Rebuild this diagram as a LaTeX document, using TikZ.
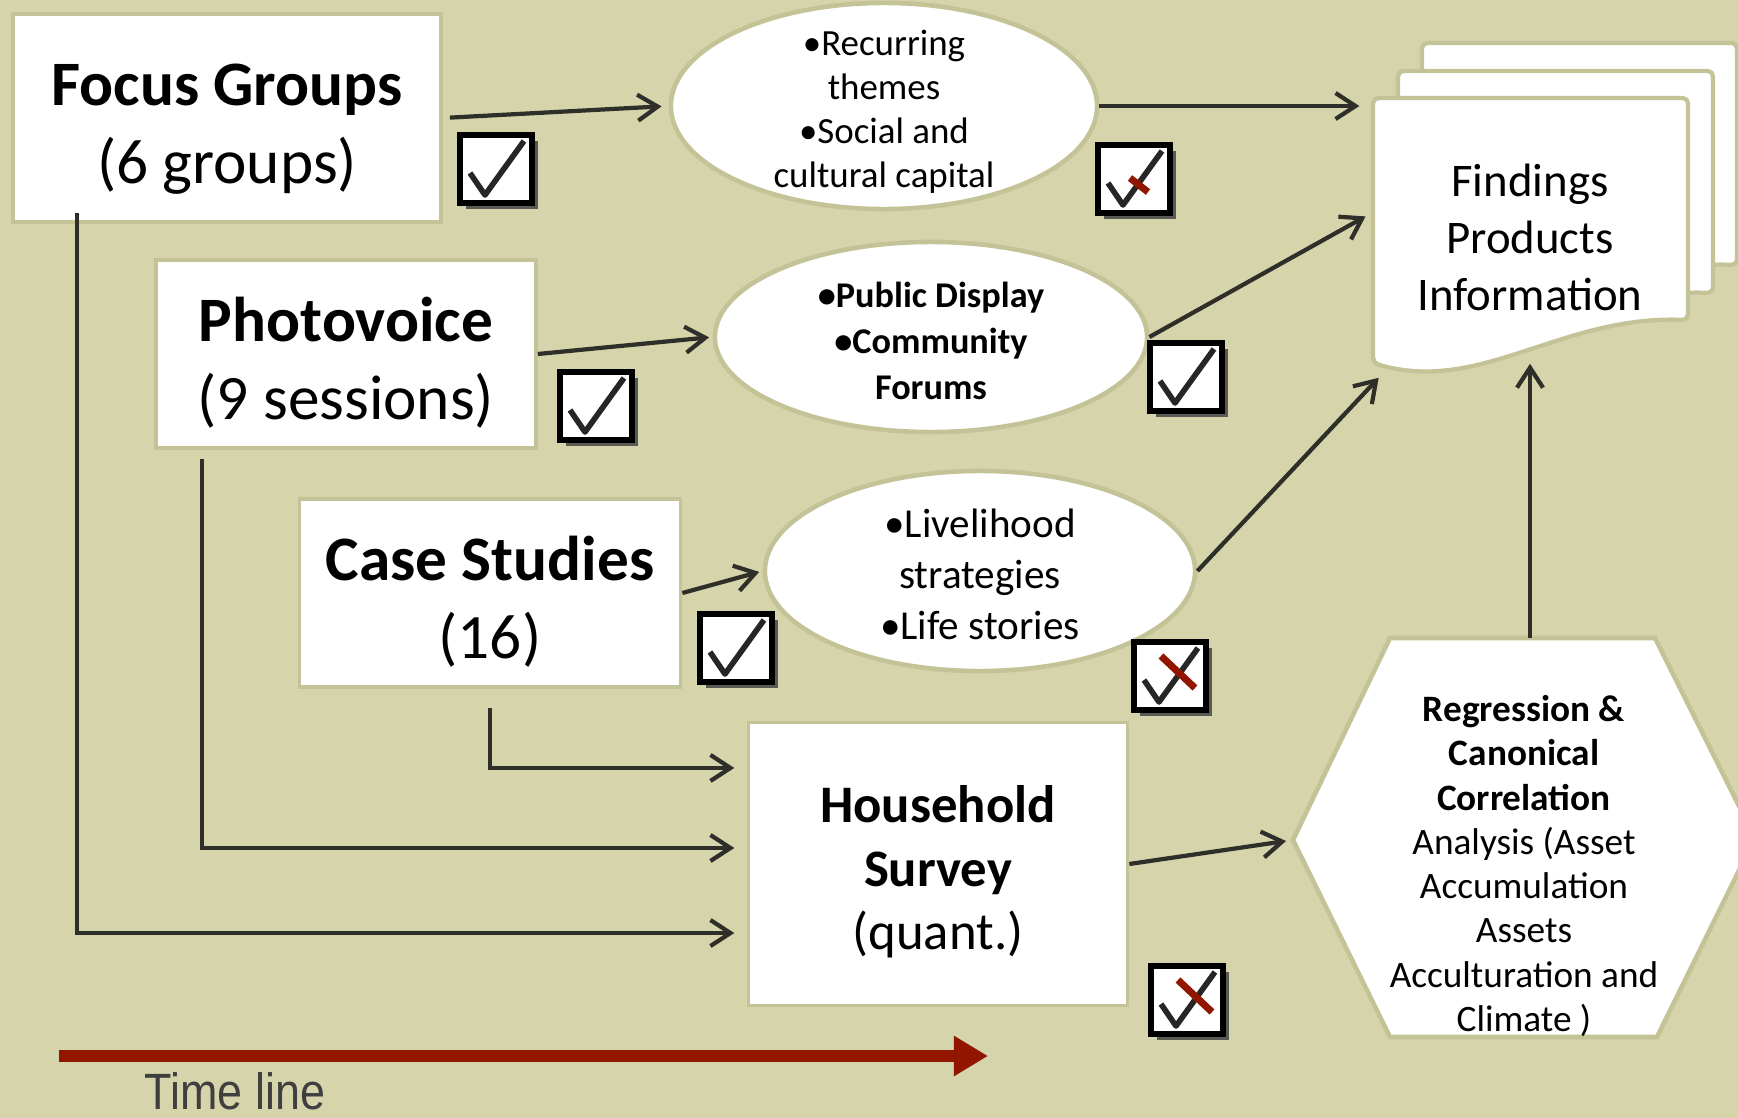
\documentclass[tikz,border=0pt]{standalone}
\usepackage{fontspec}
\setmainfont{Carlito}
\newfontfamily\timefont[FakeStretch=0.88]{Liberation Sans}
\usepackage{tikz}
\usetikzlibrary{arrows.meta,positioning,calc,shapes.geometric}
\newcommand{\topgap}[1]{\rule{0pt}{#1}}
\definecolor{mmbg}{HTML}{D6D4AA}
\definecolor{mmedge}{HTML}{C4C297}
\definecolor{mmink}{HTML}{2F2F29}
\definecolor{mmred}{HTML}{921500}
\definecolor{mmshade}{HTML}{5A5A55}
\definecolor{mmtext}{HTML}{3F3F3F}
\tikzset{
  methodBox/.style={draw=mmedge, line width=1pt, fill=white, align=center, inner sep=0pt},
  themeOval/.style={ellipse, draw=mmedge, line width=1.3pt, fill=white, inner sep=0pt},
  ovalText/.style={align=center, inner sep=0pt},
  sheetShape/.style={draw=mmedge, line width=1.2pt, fill=white, rounded corners=1.5pt},
  hexShape/.style={draw=mmedge, line width=1.3pt, fill=white},
  flowArrow/.style={-{Straight Barb[length=2mm,width=2.6mm]}, line width=1.2pt, draw=mmink},
  timeArrow/.style={-{Triangle[length=3.4mm,width=3.8mm]}, line width=3.4pt, draw=mmred},
  pics/tickBox/.style={code={
    \fill[mmshade] (-30,-28) rectangle (42,40);
    \draw[black, line width=1.7pt, fill=white] (-36,-34) rectangle (36,34);
    \draw[black!85, line width=1.6pt, line join=round] (-26,4) -- (-11,26) -- (28,-28);
  }},
  pics/redSlash/.style={code={
    \draw[mmred, line width=2pt] (-9,-20) -- (25,12);
  }},
  pics/redDash/.style={code={
    \draw[mmred, line width=2pt] (-4,-1) -- (14,13);
  }}
}

\begin{document}
\begin{tikzpicture}[x=0.01cm, y=-0.01cm]
  \fill[mmbg] (0,0) rectangle (1738,1118);
  \useasboundingbox (0,0) rectangle (1738,1118);

  % stack of output sheets
  \draw[sheetShape] (1422,43) -- (1737,43) -- (1737,265) .. controls (1609,260) and (1529,340) .. (1422,308) -- cycle;
  \draw[sheetShape] (1398,71) -- (1713,71) -- (1713,293) .. controls (1585,288) and (1505,368) .. (1398,336) -- cycle;
  \draw[sheetShape] (1373,98) -- (1688,98) -- (1688,320) .. controls (1560,315) and (1480,395) .. (1373,363) -- cycle;
  \node[ovalText, font=\fontsize{13.3}{16.2}\selectfont, minimum width=3.15cm, minimum height=2.52cm] (doc) at (1530,237) {Findings\\Products\\Information};

  % analysis hexagon
  \draw[hexShape] (1390,638) -- (1655,638) -- (1755,838) -- (1657,1037) -- (1390,1037) -- (1293,840) -- cycle;
  \coordinate (hexTop) at (1530,638);
  \coordinate (hexLeft) at (1293,840);
  \node[ovalText, font=\fontsize{10.6}{12.6}\selectfont] (regr) at (1524,866) {\textbf{Regression \&}\\\textbf{Canonical}\\\textbf{Correlation}\\Analysis (Asset\\Accumulation\\Assets\\Acculturation and\\Climate )};

  % data collection methods
  \node[methodBox, minimum width=4.28cm, minimum height=2.08cm, font=\fontsize{18}{22}\selectfont] (fg) at (227,118) {\topgap{18.2pt}\textbf{Focus Groups}\\(6 groups)};
  \node[methodBox, minimum width=3.80cm, minimum height=1.88cm, font=\fontsize{18}{22}\selectfont] (pv) at (346,354) {\topgap{17.6pt}\textbf{Photovoice}\\(9 sessions)};
  \node[methodBox, minimum width=3.81cm, minimum height=1.88cm, font=\fontsize{18}{22}\selectfont] (cs) at (490,593) {\topgap{17.6pt}\textbf{Case Studies}\\(16)};
  \node[methodBox, minimum width=3.79cm, minimum height=2.83cm, font=\fontsize{15}{18}\selectfont] (hs) at (938,864) {\topgap{15pt}\textbf{Household}\\\textbf{Survey}\\(quant.)};

  % qualitative results
  \node[themeOval, minimum width=4.26cm, minimum height=2.06cm] (e1) at (884,106) {};
  \node[ovalText, font=\fontsize{10.5}{12.5}\selectfont] (e1txt) at ([yshift=-0.06cm]e1.center) {\textbullet Recurring\\themes\\\textbullet Social and\\cultural capital};
  \node[themeOval, minimum width=4.32cm, minimum height=1.90cm] (e2) at (931,337) {};
  \node[ovalText, font=\bfseries\fontsize{10.3}{13}\selectfont] (e2txt) at ([yshift=-0.04cm]e2.center) {\textbullet Public Display\\\textbullet Community\\Forums};
  \node[themeOval, minimum width=4.30cm, minimum height=2.00cm] (e3) at (980,571) {};
  \node[ovalText, font=\fontsize{11.7}{14.5}\selectfont] (e3txt) at ([yshift=-0.035cm]e3.center) {\textbullet Livelihood\\strategies\\\textbullet Life stories};

  \draw[flowArrow, shorten <=2pt, shorten >=2pt] (fg.east) -- (e1.west);
  \draw[flowArrow, shorten >=3.5pt] (e1.east) -- (e1.east -| doc.west);
  \draw[flowArrow, shorten >=1pt] (pv.east) -- (e2.west);
  \draw[flowArrow, shorten >=2pt] (e2.east) -- ([yshift=0.24cm]doc.west);
  \draw[flowArrow, shorten >=1pt] (cs.east) -- (e3.west);
  \draw[flowArrow] (e3.east) -- ([xshift=0.07cm,yshift=-0.14cm]doc.south west);
  \draw[flowArrow] (hexTop) -- (doc.south);
  \draw[flowArrow, shorten >=2pt] (hs.east) -- (hexLeft);
  \draw[flowArrow, shorten >=3.5pt] ([yshift=-0.19cm]cs.south) |- ([yshift=0.96cm]hs.west);
  \draw[flowArrow, shorten >=3.5pt] ([xshift=-1.44cm,yshift=-0.09cm]pv.south) |- ([yshift=0.16cm]hs.west);
  \draw[flowArrow, shorten >=3.5pt] ([xshift=0.66cm,yshift=0.11cm]fg.south west) |- ([yshift=-0.69cm]hs.west);

  % check marks
  \pic (tickFG) at (496,169) {tickBox};
  \pic (tickPV) at (596,406) {tickBox};
  \pic (tickCS) at (736,648) {tickBox};
  \pic (tickE1) at (1134,179) {tickBox};
  \pic (dashE1) at (1134,179) {redDash};
  \pic (tickE2) at (1186,377) {tickBox};
  \pic (tickE3) at (1170,676) {tickBox};
  \pic (slashE3) at (1170,676) {redSlash};
  \pic (tickHS) at (1187,1000) {tickBox};
  \pic (slashHS) at (1187,1000) {redSlash};

  % time line
  \coordinate (tlStart) at (59,1056);
  \coordinate (tlEnd) at (988,1056);
  \draw[timeArrow] (tlStart) -- (tlEnd);
  \node[anchor=base, inner sep=0pt, text=mmtext, font=\timefont\fontsize{14.5}{17}\selectfont] (tl) at (235,1109) {Time line};
\end{tikzpicture}
\end{document}
